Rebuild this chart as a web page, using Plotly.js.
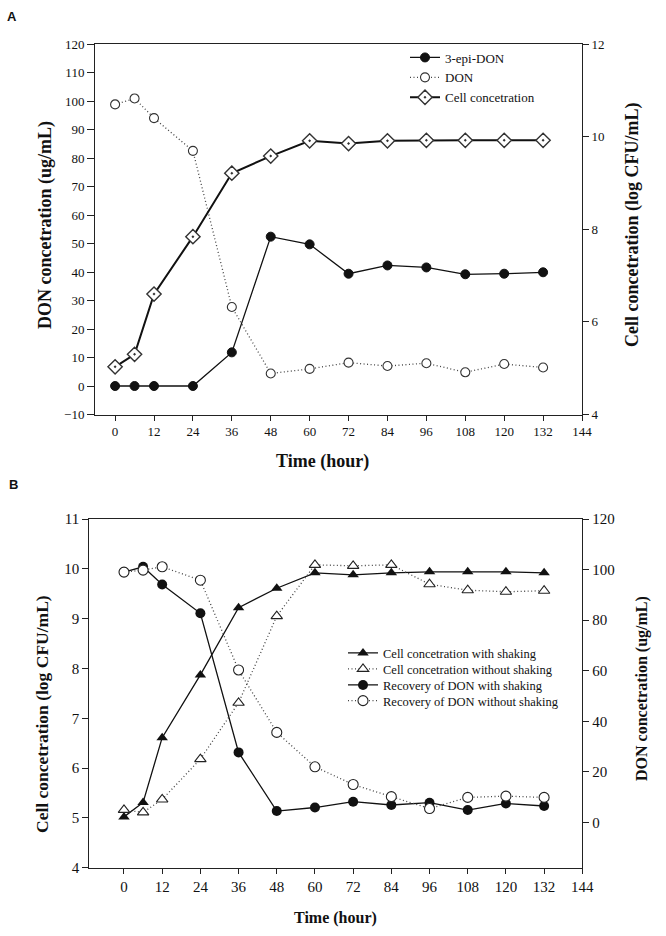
<!DOCTYPE html>
<html><head><meta charset="utf-8">
<script src="https://cdn.plot.ly/plotly-3.0.1.min.js"></script>
<style>html,body{margin:0;padding:0;background:#fff}#chart{width:666px;height:936px}</style>
</head><body><div id="chart"></div>
<script>
// ---------- data ----------
const timeA = [0,6,12,24,36,48,60,72,84,96,108,120,132];
const epiDON_A = [0,0,0,0,11.8,52.4,49.7,39.4,42.3,41.6,39.2,39.4,39.9];
const DON_A = [98.8,100.9,94.0,82.5,27.7,4.4,6.0,8.2,7.0,8.0,4.8,7.7,6.5];
const cell_A = [5.03,5.30,6.60,7.84,9.21,9.58,9.91,9.85,9.91,9.92,9.92,9.92,9.92];

const timeB = [0,6,12,24,36,48,60,72,84,96,108,120,132];
const cellShake_B = [5.02,5.31,6.61,7.87,9.22,9.61,9.92,9.88,9.92,9.94,9.94,9.94,9.92];
const cellNoShake_B = [5.16,5.11,5.37,6.18,7.31,9.05,10.08,10.06,10.08,9.69,9.57,9.54,9.56];
const donShake_B = [99.0,101.1,94.1,82.7,27.7,4.5,5.9,8.2,6.9,7.8,4.9,7.5,6.5];
const donNoShake_B = [99.0,99.8,101.1,95.8,60.3,35.6,22.0,15.0,10.2,5.5,9.9,10.4,9.9];

const namesA = ['3-epi-DON','DON','Cell concetration'];
const namesB = ['Cell concetration with shaking','Cell concetration without shaking',
                'Recovery of DON with shaking','Recovery of DON without shaking'];
const xTicks = [0,12,24,36,48,60,72,84,96,108,120,132,144];

// ---------- helpers ----------
const W = 666, H = 936;
const px = v => v / W;
const py = v => 1 - v / H;
const SERIF = 'Liberation Serif, Times New Roman, serif';
const BLK = '#111';
const DOT = '1px,2.5px';

const traces = [
  {x: timeA, y: epiDON_A, name: namesA[0], xaxis:'x', yaxis:'y', mode:'lines+markers',
   line:{color:BLK, width:1.3}, marker:{symbol:'circle', size:9, color:BLK, line:{color:BLK,width:1}},
   legend:'legend'},
  {x: timeA, y: DON_A, name: namesA[1], xaxis:'x', yaxis:'y', mode:'lines+markers',
   line:{color:'#444', width:1.3, dash:DOT}, marker:{symbol:'circle', size:9, color:'#fff', line:{color:'#333',width:1.1}},
   legend:'legend'},
  {x: timeA, y: cell_A, name: namesA[2], xaxis:'x', yaxis:'y2', mode:'lines+markers',
   line:{color:BLK, width:2}, marker:{symbol:'diamond-dot', size:11, color:'#fff', line:{color:'#333',width:1.4}},
   legend:'legend'},

  {x: timeB, y: cellShake_B, name: namesB[0], xaxis:'x2', yaxis:'y3', mode:'lines+markers',
   line:{color:BLK, width:1.3}, marker:{symbol:'triangle-up', size:10, color:BLK},
   legend:'legend2'},
  {x: timeB, y: cellNoShake_B, name: namesB[1], xaxis:'x2', yaxis:'y3', mode:'lines+markers',
   line:{color:'#444', width:1.3, dash:DOT}, marker:{symbol:'triangle-up', size:10, color:'#fff', line:{color:'#222',width:1.1}},
   legend:'legend3'},
  {x: timeB, y: donShake_B, name: namesB[2], xaxis:'x2', yaxis:'y4', mode:'lines+markers',
   line:{color:BLK, width:1.3}, marker:{symbol:'circle', size:10, color:BLK},
   legend:'legend4'},
  {x: timeB, y: donNoShake_B, name: namesB[3], xaxis:'x2', yaxis:'y4', mode:'lines+markers',
   line:{color:'#444', width:1.3, dash:DOT}, marker:{symbol:'circle', size:10, color:'#fff', line:{color:'#222',width:1.1}},
   legend:'legend5'}
];

const axCommon = {showgrid:false, zeroline:false, showline:true, linecolor:'#222', linewidth:1,
                  ticks:'outside', tickcolor:'#222', tickwidth:1, fixedrange:true};

const tfA = {family:SERIF, size:13, color:'#111'};
const tfB = {family:SERIF, size:15, color:'#111'};

const legBase = (x, y, size) => ({x:px(x), y:py(y), xanchor:'left', yanchor:'middle',
  bgcolor:'rgba(0,0,0,0)', borderwidth:0, font:{family:SERIF, size:size, color:'#111'}, itemwidth:30});

const ann = (text, x, y, size, angle, family) => ({text:text, x:px(x), y:py(y), xref:'paper', yref:'paper',
  xanchor:'center', yanchor:'middle', showarrow:false, textangle:angle || 0,
  font:{family:family || SERIF, size:size, color:'#111'}});

const layout = {
  width: W, height: H, margin:{l:0,r:0,t:0,b:0},
  paper_bgcolor:'#fff', plot_bgcolor:'#fff', showlegend:true,
  xaxis: Object.assign({}, axCommon, {domain:[px(95), px(582)], range:[-6.2,144], anchor:'y',
          tickvals:xTicks, ticklen:5, mirror:true, tickfont:tfA}),
  yaxis: Object.assign({}, axCommon, {domain:[py(414.5), py(44)], range:[-10,120], anchor:'x',
          dtick:10, tick0:0, ticklen:7, tickfont:tfA}),
  yaxis2: Object.assign({}, axCommon, {overlaying:'y', side:'right', anchor:'x', range:[4,12],
          dtick:2, tick0:4, ticklen:6, tickfont:tfA}),

  xaxis2: Object.assign({}, axCommon, {domain:[px(89.3), px(582.3)], range:[-10.9,144], anchor:'y3',
          tickvals:xTicks, ticklen:5, mirror:true, tickfont:tfB}),
  yaxis3: Object.assign({}, axCommon, {domain:[py(867.7), py(519)], range:[4,11], anchor:'x2',
          dtick:1, tick0:4, ticklen:6, tickfont:tfB}),
  yaxis4: Object.assign({}, axCommon, {overlaying:'y3', side:'right', anchor:'x2', range:[-17.9,120],
          tickvals:[0,20,40,60,80,100,120], ticklen:6, tickfont:tfB}),

  legend: legBase(405, 77.5, 13),
  legend2: legBase(343, 653.3, 12.5),
  legend3: legBase(343, 669.3, 12.5),
  legend4: legBase(343, 685.3, 12.5),
  legend5: legBase(343, 701, 12.5),

  annotations: [
    ann('<b>A</b>', 12, 16, 13, 0, 'Liberation Sans, Arial, sans-serif'),
    ann('<b>B</b>', 13, 484, 13, 0, 'Liberation Sans, Arial, sans-serif'),
    ann('<b>DON concetration (ug/mL)</b>', 45, 225, 18, -90),
    ann('<b>Cell concetration (log CFU/mL)</b>', 632, 225, 18, -90),
    ann('<b>Time (hour)</b>', 322, 461, 18, 0),
    ann('<b>Cell concetration (log CFU/mL)</b>', 42, 714, 17.5, -90),
    ann('<b>DON concetration (ug/mL)</b>', 642, 689, 16, -90),
    ann('<b>Time (hour)</b>', 335, 918, 16, 0)
  ]
};

Plotly.newPlot('chart', traces, layout, {staticPlot:true, displayModeBar:false});
</script>
</body></html>
